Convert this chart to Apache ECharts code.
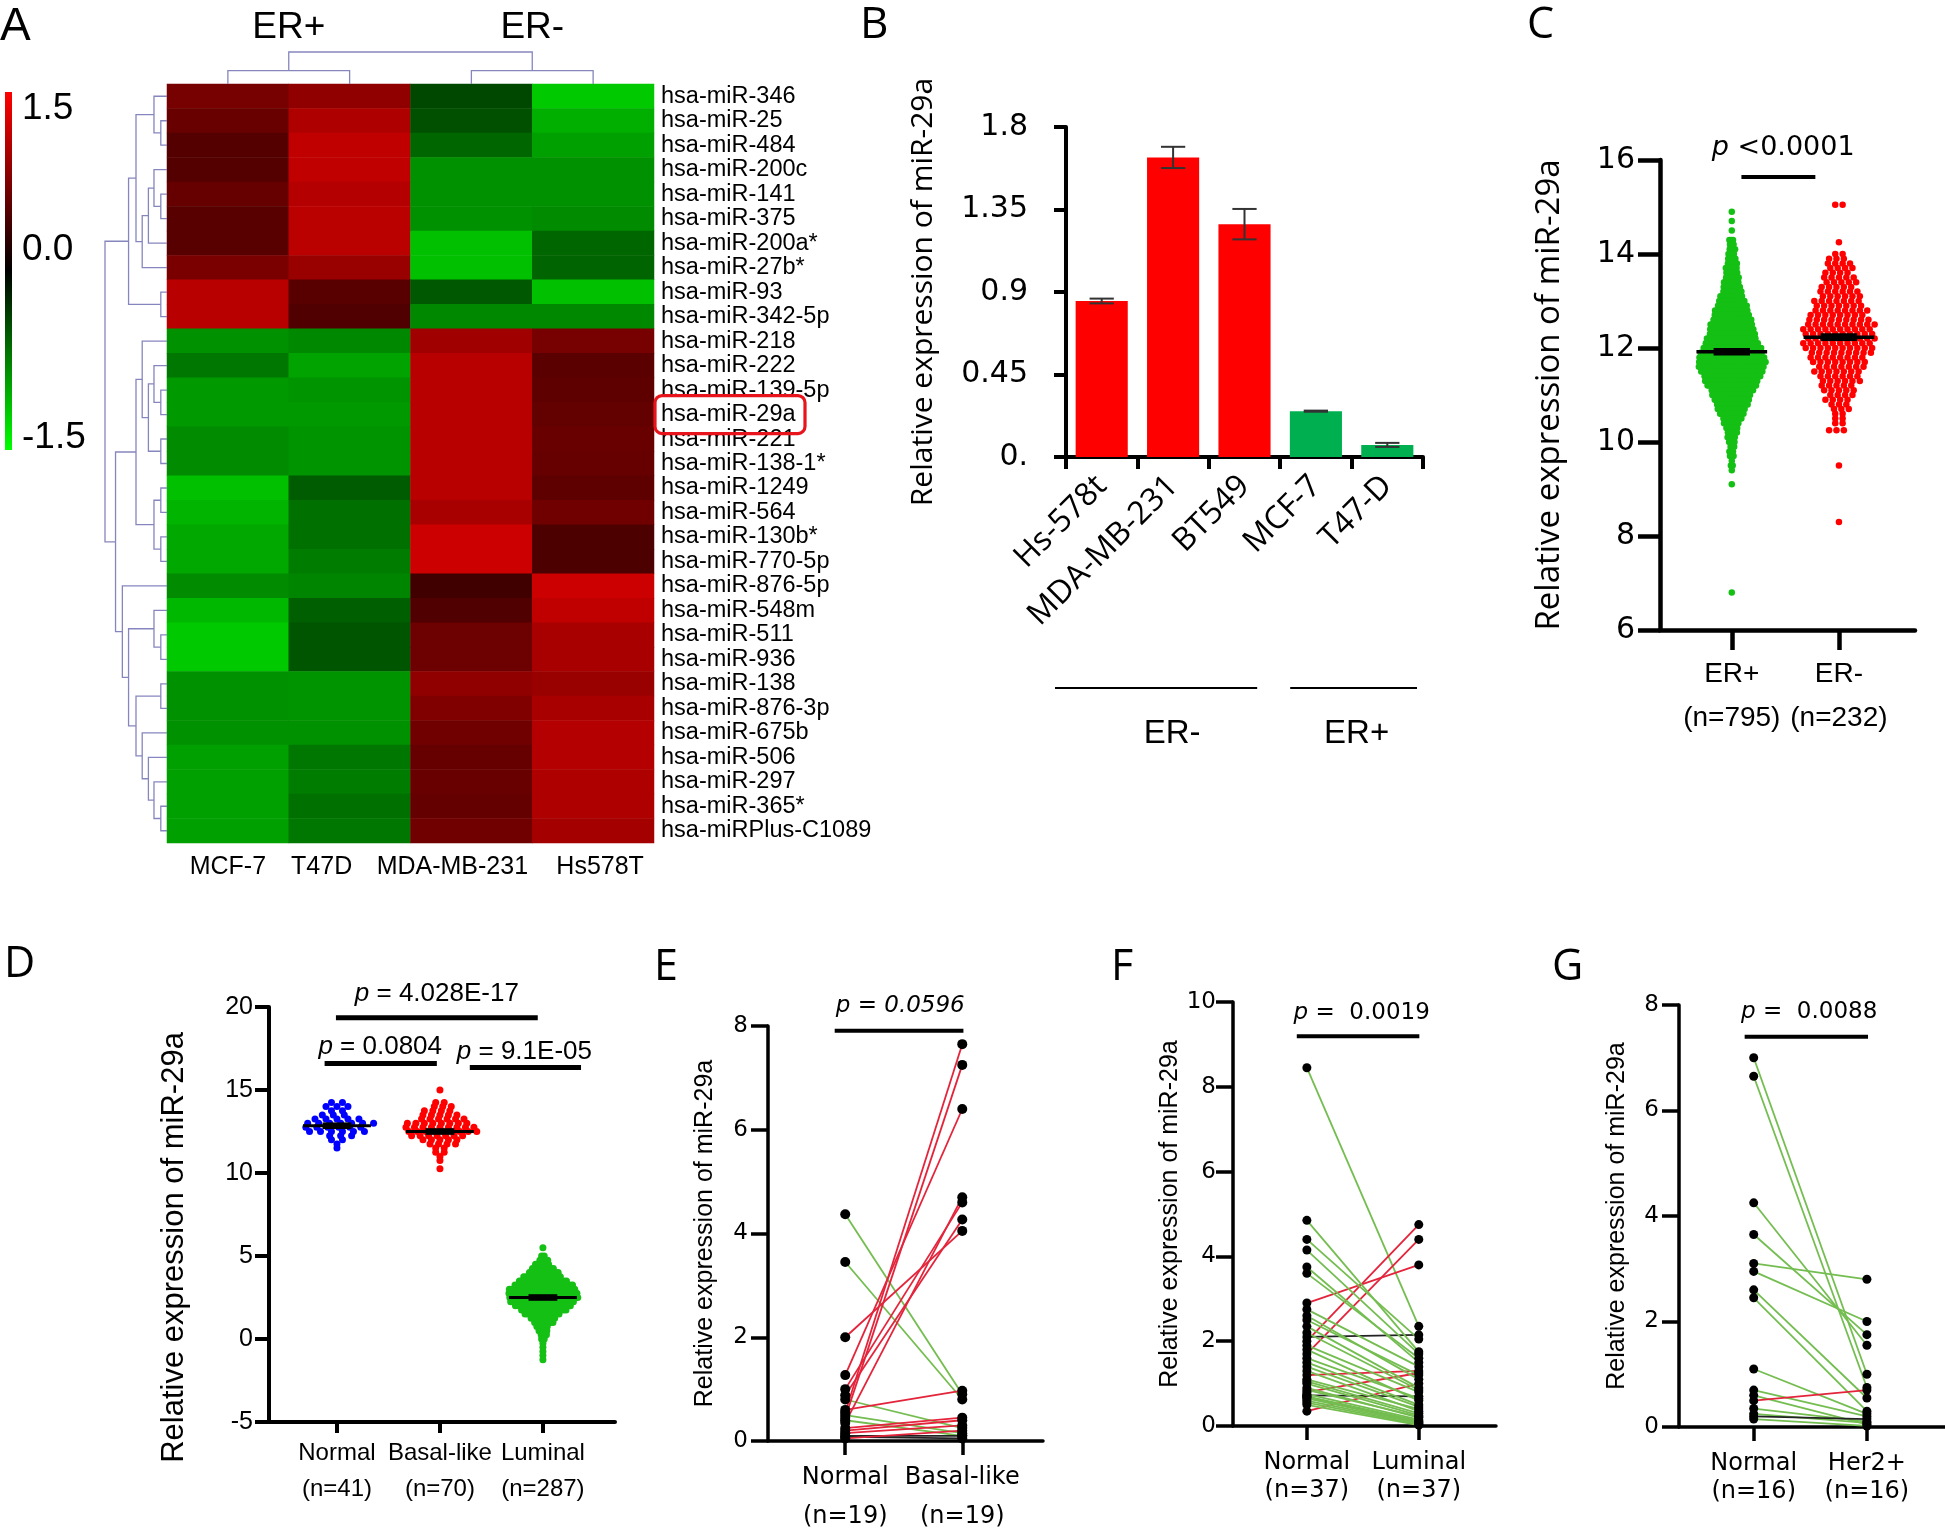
<!DOCTYPE html>
<html>
<head>
<meta charset="utf-8">
<title>miR-29a expression</title>
<script src="https://cdn.jsdelivr.net/npm/echarts@6/dist/echarts.min.js"></script>
<style>
html,body{margin:0;padding:0;background:#ffffff;}
#chart{width:1945px;height:1530px;}
</style>
</head>
<body>
<div id="chart"></div>
<script>
// ===================== DATA =====================
// Panel A: heatmap
const heatColumns = ['MCF-7', 'T47D', 'MDA-MB-231', 'Hs578T'];
const heatGroups = ['ER+', 'ER-'];
const heatRows = ['hsa-miR-346','hsa-miR-25','hsa-miR-484','hsa-miR-200c','hsa-miR-141','hsa-miR-375','hsa-miR-200a*','hsa-miR-27b*','hsa-miR-93','hsa-miR-342-5p','hsa-miR-218','hsa-miR-222','hsa-miR-139-5p','hsa-miR-29a','hsa-miR-221','hsa-miR-138-1*','hsa-miR-1249','hsa-miR-564','hsa-miR-130b*','hsa-miR-770-5p','hsa-miR-876-5p','hsa-miR-548m','hsa-miR-511','hsa-miR-936','hsa-miR-138','hsa-miR-876-3p','hsa-miR-675b','hsa-miR-506','hsa-miR-297','hsa-miR-365*','hsa-miRPlus-C1089'];
const heatValues = [
  [0.70, 0.85, -0.42, -1.18],
  [0.62, 1.03, -0.47, -1.03],
  [0.50, 1.13, -0.60, -0.94],
  [0.50, 1.13, -0.85, -0.85],
  [0.60, 1.06, -0.85, -0.85],
  [0.52, 1.10, -0.85, -0.82],
  [0.52, 1.10, -1.13, -0.60],
  [0.72, 0.90, -1.13, -0.59],
  [1.08, 0.52, -0.52, -1.13],
  [1.08, 0.47, -0.80, -0.80],
  [-0.85, -0.80, 0.94, 0.70],
  [-0.70, -0.96, 1.08, 0.53],
  [-0.90, -0.87, 1.08, 0.56],
  [-0.90, -0.90, 1.08, 0.58],
  [-0.82, -0.87, 1.08, 0.62],
  [-0.82, -0.87, 1.08, 0.60],
  [-1.13, -0.54, 1.08, 0.56],
  [-1.06, -0.66, 0.99, 0.66],
  [-0.99, -0.66, 1.20, 0.45],
  [-0.99, -0.73, 1.20, 0.45],
  [-0.82, -0.78, 0.38, 1.20],
  [-1.08, -0.56, 0.47, 1.13],
  [-1.18, -0.50, 0.64, 0.99],
  [-1.18, -0.50, 0.64, 0.99],
  [-0.85, -0.87, 0.85, 0.90],
  [-0.85, -0.87, 0.75, 0.99],
  [-0.85, -0.85, 0.66, 1.06],
  [-0.94, -0.70, 0.60, 1.06],
  [-0.94, -0.73, 0.62, 1.03],
  [-0.94, -0.66, 0.59, 1.03],
  [-0.94, -0.70, 0.66, 0.97]
];
// dendrogram merges: [nodeA, nodeB, height]; leaves are row/column indices, new nodes numbered after leaves
const rowLinkage = [
  [1,2,0.10],[0,31,0.21],[4,5,0.10],[3,33,0.21],[34,6,0.30],[35,7,0.40],[32,36,0.50],[8,9,0.10],[37,38,0.62],
  [12,13,0.10],[14,15,0.10],[11,40,0.21],[42,41,0.30],[10,43,0.40],[16,17,0.10],[18,19,0.10],[45,46,0.21],[44,47,0.50],
  [22,23,0.10],[21,49,0.21],[24,25,0.10],[29,30,0.10],[28,52,0.21],[27,53,0.30],[26,54,0.40],[51,55,0.50],[50,56,0.62],
  [20,57,0.72],[48,58,0.83],[39,59,1.00]
];
const colLinkage = [[0,1,0.42],[2,3,0.42],[4,5,1.00]];
const colorbarTicks = [1.5, 0.0, -1.5];

// Panel B: bar chart
const barCategories = ['Hs-578t', 'MDA-MB-231', 'BT549', 'MCF-7', 'T47-D'];
const barValues = [0.851, 1.634, 1.270, 0.250, 0.066];
const barErrors = [0.013, 0.058, 0.083, 0.003, 0.011];
const barGroups = ['ER-', 'ER-', 'ER-', 'ER+', 'ER+'];

// Panel C: beeswarm (value bins and number of samples per bin)
const cGroups = ['ER+', 'ER-'];
const cCounts = [795, 232];
const cErPosValues = [14.9,14.7,14.5,14.3,14.2,14.1,14.0,13.9,13.8,13.7,13.6,13.5,13.4,13.3,13.2,13.1,13.0,12.9,12.8,12.7,12.6,12.5,12.4,12.3,12.2,12.1,12.0,11.9,11.8,11.7,11.6,11.5,11.4,11.3,11.2,11.1,11.0,10.9,10.8,10.7,10.6,10.5,10.4,10.3,10.2,10.1,10.0,9.9,9.8,9.7,9.6,9.5,9.4,9.1,6.8];
const cErPosBinCounts = [1,1,1,3,3,4,4,5,6,7,7,8,9,10,11,13,15,17,19,20,22,24,25,26,28,30,33,35,37,38,37,35,32,30,28,24,22,20,18,16,14,11,9,7,6,5,4,3,3,3,1,2,1,1,1];
const cErNegValues = [15.05,14.25,14.0,13.9,13.8,13.7,13.6,13.5,13.4,13.3,13.2,13.1,13.0,12.9,12.8,12.7,12.6,12.5,12.4,12.3,12.2,12.1,12.0,11.9,11.8,11.7,11.6,11.5,11.4,11.3,11.2,11.1,11.0,10.9,10.8,10.7,10.6,10.5,10.4,10.25,9.5,8.3];
const cErNegBinCounts = [2,1,2,3,4,4,4,5,5,5,6,6,7,7,8,8,9,10,10,10,10,10,10,9,8,8,7,7,6,6,5,5,4,4,3,3,2,2,2,3,1,1];
const cMeans = [11.92, 12.23];
const cSigLines = [[0.09, 0.78, 15.64, 0.48, 16.26]]; // x1, x2, y, textX, textY
const cSigTexts = ['{i|p} <0.0001'];

// Panel D: beeswarm
const dGroups = ['Normal', 'Basal-like', 'Luminal'];
const dCounts = [41, 70, 287];
const dNormalValues = [14.25,14.0,13.75,13.5,13.25,13.0,12.75,12.5,12.25,12.0,11.75,11.5];
const dNormalBinCounts = [2,3,2,3,5,7,6,6,3,2,1,1];
const dBasalValues = [15.0,14.25,14.0,13.75,13.5,13.25,13.0,12.75,12.5,12.25,12.0,11.75,11.5,11.25,11.0,10.75,10.25];
const dBasalBinCounts = [1,2,3,4,5,6,8,9,9,7,5,4,2,2,1,1,1];
const dLuminalValues = [5.5,5.0,4.75,4.5,4.25,4.0,3.75,3.5,3.25,3.0,2.75,2.5,2.25,2.0,1.75,1.5,1.25,1.0,0.75,0.5,0.25,0.0,-0.25,-0.5,-0.75,-1.0,-1.25];
const dLuminalBinCounts = [1,2,4,6,9,12,15,19,23,26,27,27,25,22,18,14,10,8,5,4,3,2,1,1,1,1,1];
const dMeans = [12.85, 12.5, 2.5];
const dSigLines = [[-0.01, 1.95, 19.35, 0.97, 20.8], [-0.12, 0.97, 16.6, 0.42, 17.6], [1.29, 2.37, 16.35, 1.82, 17.3]];
const dSigTexts = ['{i|p} = 4.028E-17', '{i|p} = 0.0804', '{i|p} = 9.1E-05'];

// Panel E: paired
const eGroups = ['Normal', 'Basal-like'];
const eCounts = [19, 19];
const eNormal = [4.37, 3.45, 2.0, 1.27, 1.0, 0.88, 0.8, 0.6, 0.55, 0.5, 0.45, 0.4, 0.35, 0.25, 0.2, 0.15, 0.1, 0.08, 0.05];
const eBasal  = [0.9, 0.8, 4.05, 6.4, 4.6, 4.27, 0.25, 0.97, 7.65, 0.15, 7.25, 0.1, 4.7, 0.45, 0.4, 0.3, 0.1, 0.05, 0.2];
const eSigLines = [[-0.09, 1.01, 7.91, 0.47, 8.38]];
const eSigTexts = ['{i|p = 0.0596}'];

// Panel F: paired
const fGroups = ['Normal', 'Luminal'];
const fCounts = [37, 37];
const fNormal  = [8.45, 2.9, 2.0, 1.7, 1.2, 0.8, 0.35, 2.1, 0.72, 4.85, 4.4, 4.15, 3.75, 3.6, 2.75, 2.6, 2.5, 2.35, 2.2, 1.9, 1.8, 1.6, 1.5, 1.4, 1.3, 1.1, 1.05, 1.0, 0.9, 0.85, 0.75, 0.7, 0.68, 0.65, 0.6, 0.55, 0.5];
const fLuminal = [2.35, 3.8, 4.75, 4.4, 1.3, 1.25, 1.0, 2.15, 0.7, 1.75, 2.05, 1.7, 1.5, 1.6, 1.4, 1.1, 1.2, 0.9, 0.85, 0.8, 0.6, 0.65, 0.5, 0.45, 0.35, 0.4, 0.3, 0.25, 0.2, 0.22, 0.15, 0.12, 0.1, 0.08, 0.06, 0.04, 0.02];
const fSigLines = [[-0.09, 1.005, 9.19, 0.49, 9.73]];
const fSigTexts = ['{i|p} =  0.0019'];

// Panel G: paired
const gGroups = ['Normal', 'Her2+'];
const gCounts = [16, 16];
const gNormal = [7.0, 6.65, 4.25, 3.65, 3.1, 2.95, 2.6, 2.45, 1.1, 0.7, 0.6, 0.5, 0.35, 0.25, 0.2, 0.15];
const gHer2   = [1.0, 0.75, 1.55, 1.75, 2.8, 2.0, 0.55, 0.3, 0.25, 0.2, 0.05, 0.7, 0.1, 0.08, 0.15, 0.02];
const gSigLines = [[-0.08, 1.01, 7.4, 0.49, 7.86]];
const gSigTexts = ['{i|p} =  0.0088'];

// ===================== STYLE / LAYOUT =====================
const FONT_ARIAL = "'Liberation Sans', Arial, Helvetica, sans-serif";
const FONT_WIDE = "'DejaVu Sans', Verdana, sans-serif";
const FONT_OPEN = "'Open Sans', 'Noto Sans', sans-serif";
const RED_LINE = '#e3243b';
const GREEN_LINE = '#74bd50';
const GROUP_COLORS = {'ER-': '#ff0000', 'ER+': '#00b050'};
const YNAME = 'Relative expression of miR-29a';
const HEAT_LABEL_SHIFT = [0, -28, -19, 7]; // horizontal nudge of column labels (px)

function dendroItems(linkage, nLeaves) {
  const pos = [], hgt = [];
  for (let i = 0; i < nLeaves; i++) { pos[i] = i; hgt[i] = 0; }
  return linkage.map(([a, b, h], k) => {
    const id = nLeaves + k;
    pos[id] = (pos[a] + pos[b]) / 2; hgt[id] = h;
    return [h, pos[a], pos[b], hgt[a], hgt[b]];
  });
}
function dendroSeries(xi, yi, linkage, nLeaves, horizontal) {
  return {
    type: 'custom', xAxisIndex: xi, yAxisIndex: yi, silent: true, clip: false,
    data: dendroItems(linkage, nLeaves),
    renderItem(p, api) {
      const h = api.value(0), pa = api.value(1), pb = api.value(2), ha = api.value(3), hb = api.value(4);
      const P = horizontal ? (hh, pp) => api.coord([hh, pp]) : (hh, pp) => api.coord([pp, hh]);
      return {type: 'polyline', shape: {points: [P(ha, pa), P(h, pa), P(h, pb), P(hb, pb)]},
        style: {stroke: '#8686bf', lineWidth: 1.3, fill: 'none'}};
    }
  };
}
function swarmPoints(cat, values, counts, halfWidth) {
  const maxC = Math.max.apply(null, counts);
  const step = maxC > 1 ? 2 * halfWidth / (maxC - 1) : 0;
  const pts = [];
  values.forEach((v, k) => {
    const n = counts[k];
    const stagger = n > 2 ? ((k % 3) - 1) * step / 3 : 0;
    for (let i = 0; i < n; i++) pts.push([cat + (i - (n - 1) / 2) * step + stagger, v]);
  });
  return pts;
}
function scatterSeries(xi, yi, data, color, size) {
  return {type: 'scatter', xAxisIndex: xi, yAxisIndex: yi, data, symbol: 'circle', symbolSize: size,
    itemStyle: {color, opacity: 1}, silent: true, clip: false};
}
function meanSeries(xi, yi, means, half, semHalf, lw) {
  return {
    type: 'custom', xAxisIndex: xi, yAxisIndex: yi, silent: true, clip: false, z: 10,
    data: means.map((m, i) => [i, m]),
    renderItem(p, api) {
      const x = api.value(0), y = api.value(1);
      const a = api.coord([x - half, y]), b = api.coord([x + half, y]);
      const c = api.coord([x - semHalf, y]), d = api.coord([x + semHalf, y]);
      return {type: 'group', children: [
        {type: 'line', shape: {x1: a[0], y1: a[1], x2: b[0], y2: b[1]}, style: {stroke: '#000', lineWidth: lw}},
        {type: 'line', shape: {x1: c[0], y1: c[1], x2: d[0], y2: d[1]}, style: {stroke: '#000', lineWidth: lw * 2.2}}
      ]};
    }
  };
}
function sigSeries(xi, yi, lines, texts, font, size, lw) {
  return {
    type: 'custom', xAxisIndex: xi, yAxisIndex: yi, silent: true, clip: false, z: 10,
    data: lines.map((l, k) => l.concat([k])),
    renderItem(p, api) {
      const a = api.coord([api.value(0), api.value(2)]), b = api.coord([api.value(1), api.value(2)]);
      const t = api.coord([api.value(3), api.value(4)]);
      const k = api.value(5);
      return {type: 'group', children: [
        {type: 'line', shape: {x1: a[0], y1: a[1], x2: b[0], y2: b[1]}, style: {stroke: '#000', lineWidth: lw}},
        {type: 'text', x: t[0], y: t[1], style: {text: texts[k], fill: '#000', fontFamily: font, fontSize: size,
          align: 'center', verticalAlign: 'middle',
          rich: {i: {fontStyle: 'italic', fontFamily: font, fontSize: size, fill: '#000'}}}}
      ]};
    }
  };
}
function pairLineSeries(xi, yi, a, b) {
  return {
    type: 'custom', xAxisIndex: xi, yAxisIndex: yi, silent: true, clip: false,
    data: a.map((v, i) => [v, b[i]]),
    renderItem(p, api) {
      const v0 = api.value(0), v1 = api.value(1);
      const s = api.coord([0, v0]), e = api.coord([1, v1]);
      const d = v1 - v0;
      const col = Math.abs(d) < 0.06 ? '#222' : (d > 0 ? RED_LINE : GREEN_LINE);
      return {type: 'line', shape: {x1: s[0], y1: s[1], x2: e[0], y2: e[1]}, style: {stroke: col, lineWidth: 1.8}};
    }
  };
}
function pairDots(xi, yi, a, b, size) {
  return scatterSeries(xi, yi, a.map(v => [0, v]).concat(b.map(v => [1, v])), '#000', size);
}
function gpXAxis(grid, labels, min, max, o) {
  const idx = labels.map((_, i) => i);
  return {type: 'value', gridIndex: grid, min, max,
    axisLine: {show: true, onZero: false, lineStyle: {color: '#000', width: o.lw}},
    axisTick: {show: true, customValues: idx, length: o.tick, lineStyle: {color: '#000', width: o.lw}},
    axisLabel: {show: true, customValues: idx, formatter: v => labels[Math.round(v)], color: '#000',
      fontFamily: o.font, fontSize: o.size, lineHeight: o.lh, margin: o.margin,
      showMinLabel: true, showMaxLabel: true, hideOverlap: false},
    splitLine: {show: false}};
}
function gpYAxis(grid, min, max, interval, o) {
  return {type: 'value', gridIndex: grid, min, max, interval,
    axisLine: {show: true, onZero: false, lineStyle: {color: '#000', width: o.lw}},
    axisTick: {show: true, length: o.tick, lineStyle: {color: '#000', width: o.lw}},
    axisLabel: {color: '#000', fontFamily: o.font, fontSize: o.size, margin: o.margin, formatter: o.fmt,
      showMinLabel: true, showMaxLabel: true},
    splitLine: {show: false},
    name: YNAME, nameLocation: 'middle', nameGap: o.gap,
    nameTextStyle: {color: '#000', fontFamily: o.nameFont, fontSize: o.nameSize, padding: o.namePad || 0}};
}
const labelsWithN = (groups, counts) => groups.map((g, i) => g + '\n(n=' + counts[i] + ')');

// ===================== OPTION =====================
const grids = [
  {left: 167, top: 84, width: 487, height: 759},    // 0 heatmap
  {left: 105, top: 84, width: 62, height: 759},     // 1 row dendrogram
  {left: 167, top: 52, width: 487, height: 32},     // 2 column dendrogram
  {left: 1066, top: 127, width: 357, height: 330},  // 3 B
  {left: 1660, top: 160, width: 255, height: 470},  // 4 C
  {left: 269, top: 1007, width: 346, height: 415},  // 5 D
  {left: 768, top: 1026, width: 275, height: 415},  // 6 E
  {left: 1233, top: 1002, width: 263, height: 424}, // 7 F
  {left: 1679, top: 1005, width: 266, height: 422}  // 8 G
].map(g => Object.assign({containLabel: false, outerBoundsMode: 'none'}, g));

const heatColRich = {};
HEAT_LABEL_SHIFT.forEach((s, i) => {
  heatColRich['c' + i] = {fontFamily: FONT_ARIAL, fontSize: 25, color: '#000',
    padding: s < 0 ? [0, -2 * s, 0, 0] : [0, 0, 0, 2 * s]};
});

const xAxes = [
  {type: 'category', gridIndex: 0, data: heatColumns, position: 'bottom', axisLine: {show: false}, axisTick: {show: false}, splitLine: {show: false},
   axisLabel: {interval: 0, margin: 12, color: '#000', fontFamily: FONT_ARIAL, fontSize: 25,
     formatter: (v, i) => '{c' + i + '|' + v + '}', rich: heatColRich}},
  {type: 'category', gridIndex: 0, data: heatGroups, position: 'top', axisLine: {show: false}, axisTick: {show: false}, splitLine: {show: false},
   axisLabel: {interval: 0, margin: 38, color: '#000', fontFamily: FONT_ARIAL, fontSize: 37}},
  {type: 'value', gridIndex: 1, min: 0, max: 1, inverse: true, show: false},
  {type: 'value', gridIndex: 2, min: -0.5, max: heatColumns.length - 0.5, show: false},
  {type: 'category', gridIndex: 3, data: barCategories,
   axisLine: {show: true, lineStyle: {color: '#000', width: 4}},
   axisTick: {show: true, alignWithLabel: false, length: 12, lineStyle: {color: '#000', width: 4}},
   axisLabel: {rotate: 45, interval: 0, margin: 24, color: '#000', fontFamily: FONT_OPEN, fontSize: 32}, splitLine: {show: false}},
  gpXAxis(4, labelsWithN(cGroups, cCounts), -0.67, 1.71, {lw: 4.5, tick: 20, font: FONT_ARIAL, size: 28, lh: 44, margin: 22}),
  gpXAxis(5, labelsWithN(dGroups, dCounts), -0.66, 2.70, {lw: 4, tick: 11, font: FONT_ARIAL, size: 24, lh: 36, margin: 13}),
  gpXAxis(6, labelsWithN(eGroups, eCounts), -0.66, 1.69, {lw: 3.5, tick: 14, font: FONT_WIDE, size: 24, lh: 39, margin: 17}),
  gpXAxis(7, labelsWithN(fGroups, fCounts), -0.66, 1.69, {lw: 3.5, tick: 14, font: FONT_WIDE, size: 24, lh: 28, margin: 23}),
  gpXAxis(8, labelsWithN(gGroups, gCounts), -0.66, 1.69, {lw: 3.5, tick: 14, font: FONT_WIDE, size: 24, lh: 28, margin: 23})
];
const yAxes = [
  {type: 'category', gridIndex: 0, data: heatRows, inverse: true, position: 'right', axisLine: {show: false}, axisTick: {show: false}, splitLine: {show: false},
   axisLabel: {interval: 0, margin: 7, color: '#000', fontFamily: FONT_ARIAL, fontSize: 23.5}},
  {type: 'value', gridIndex: 1, min: -0.5, max: heatRows.length - 0.5, inverse: true, show: false},
  {type: 'value', gridIndex: 2, min: 0, max: 1, show: false},
  {type: 'value', gridIndex: 3, min: 0, max: 1.8, interval: 0.45,
   axisLine: {show: true, lineStyle: {color: '#000', width: 4}},
   axisTick: {show: true, length: 12, lineStyle: {color: '#000', width: 4}},
   axisLabel: {color: '#000', fontFamily: FONT_WIDE, fontSize: 30, margin: 38, formatter: v => v === 0 ? '0.' : String(+v.toFixed(2))},
   splitLine: {show: false}, name: YNAME, nameLocation: 'middle', nameGap: 128,
   nameTextStyle: {color: '#000', fontFamily: FONT_OPEN, fontSize: 30}},
  gpYAxis(4, 6, 16, 2, {lw: 4.5, tick: 22, font: FONT_WIDE, size: 30, margin: 25, gap: 94, nameFont: FONT_OPEN, nameSize: 33}),
  gpYAxis(5, -5, 20, 5, {lw: 4, tick: 14, font: FONT_ARIAL, size: 25, margin: 16, gap: 79, nameFont: FONT_ARIAL, nameSize: 31, namePad: [0, 66, 0, 0]}),
  gpYAxis(6, 0, 8, 2, {lw: 3.5, tick: 17, font: FONT_WIDE, size: 23, margin: 20, gap: 50, nameFont: FONT_ARIAL, nameSize: 25}),
  gpYAxis(7, 0, 10, 2, {lw: 3.5, tick: 17, font: FONT_WIDE, size: 23, margin: 17, gap: 48, nameFont: FONT_ARIAL, nameSize: 25}),
  gpYAxis(8, 0, 8, 2, {lw: 3.5, tick: 17, font: FONT_WIDE, size: 23, margin: 20, gap: 49, nameFont: FONT_ARIAL, nameSize: 25})
];

const series = [
  {type: 'heatmap', xAxisIndex: 0, yAxisIndex: 0, silent: true,
   data: heatValues.flatMap((row, r) => row.map((v, c) => [c, r, v])),
   itemStyle: {borderWidth: 0}},
  dendroSeries(2, 1, rowLinkage, heatRows.length, true),
  dendroSeries(3, 2, colLinkage, heatColumns.length, false),
  {type: 'bar', xAxisIndex: 4, yAxisIndex: 3, silent: true, barCategoryGap: '27%',
   data: barValues.map((v, i) => ({value: v, itemStyle: {color: GROUP_COLORS[barGroups[i]]}}))},
  {type: 'custom', xAxisIndex: 4, yAxisIndex: 3, silent: true, clip: false, z: 5,
   data: barValues.map((v, i) => [i, v - barErrors[i], v + barErrors[i]]),
   renderItem(p, api) {
     const i = api.value(0);
     const top = api.coord([i, api.value(2)]), bot = api.coord([i, api.value(1)]);
     const w = api.size([1, 0])[0] * 0.17;
     const st = {stroke: '#333', lineWidth: 2};
     return {type: 'group', children: [
       {type: 'line', shape: {x1: top[0], y1: top[1], x2: bot[0], y2: bot[1]}, style: st},
       {type: 'line', shape: {x1: top[0] - w, y1: top[1], x2: top[0] + w, y2: top[1]}, style: st},
       {type: 'line', shape: {x1: bot[0] - w, y1: bot[1], x2: bot[0] + w, y2: bot[1]}, style: st}
     ]};
   }},
  scatterSeries(5, 4, swarmPoints(0, cErPosValues, cErPosBinCounts, 0.31), '#14c014', 6.5),
  scatterSeries(5, 4, swarmPoints(1, cErNegValues, cErNegBinCounts, 0.31), '#ff0000', 6.5),
  meanSeries(5, 4, cMeans, 0.33, 0.17, 3.5),
  sigSeries(5, 4, cSigLines, cSigTexts, FONT_WIDE, 27, 4),
  scatterSeries(6, 5, swarmPoints(0, dNormalValues, dNormalBinCounts, 0.32), '#0000ff', 7),
  scatterSeries(6, 5, swarmPoints(1, dBasalValues, dBasalBinCounts, 0.33), '#ff0000', 7),
  scatterSeries(6, 5, swarmPoints(2, dLuminalValues, dLuminalBinCounts, 0.33), '#14c014', 7),
  meanSeries(6, 5, dMeans, 0.33, 0.14, 3),
  sigSeries(6, 5, dSigLines, dSigTexts, FONT_ARIAL, 26, 5),
  pairLineSeries(7, 6, eNormal, eBasal), pairDots(7, 6, eNormal, eBasal, 10),
  sigSeries(7, 6, eSigLines, eSigTexts, FONT_WIDE, 23, 4),
  pairLineSeries(8, 7, fNormal, fLuminal), pairDots(8, 7, fNormal, fLuminal, 9),
  sigSeries(8, 7, fSigLines, fSigTexts, FONT_WIDE, 23, 4),
  pairLineSeries(9, 8, gNormal, gHer2), pairDots(9, 8, gNormal, gHer2, 9),
  sigSeries(9, 8, gSigLines, gSigTexts, FONT_WIDE, 23, 4)
];

const option = {
  animation: false,
  backgroundColor: '#ffffff',
  textStyle: {fontFamily: FONT_ARIAL},
  grid: grids, xAxis: xAxes, yAxis: yAxes, series,
  visualMap: {type: 'continuous', min: -1.5, max: 1.5, seriesIndex: 0, show: false,
    inRange: {color: ['#00ff00', '#000000', '#ff0000']}}
};

const chart = echarts.init(document.getElementById('chart'), null, {renderer: 'canvas', width: 1945, height: 1530});
chart.setOption(option);

// ===================== ANNOTATIONS =====================
const gfx = [];
// panel letters
[['A', 0, 4, FONT_ARIAL, 46], ['B', 860, 3, FONT_OPEN, 44], ['C', 1527, 4, FONT_OPEN, 43], ['D', 4, 943, FONT_OPEN, 43],
 ['E', 654, 946, FONT_OPEN, 43], ['F', 1111, 946, FONT_OPEN, 43], ['G', 1552, 946, FONT_OPEN, 43]].forEach(([t, x, y, f, s]) => {
  gfx.push({type: 'text', x, y, style: {text: t, fontFamily: f, fontSize: s, fill: '#000', align: 'left', verticalAlign: 'top'}});
});
// colour bar
gfx.push({type: 'rect', shape: {x: 5, y: 92, width: 7, height: 358},
  style: {fill: new echarts.graphic.LinearGradient(0, 0, 0, 1, [
    {offset: 0, color: '#ff0000'}, {offset: 0.5, color: '#000000'}, {offset: 1, color: '#00ff00'}])}});
const cbY = [109, 250, 438];
colorbarTicks.forEach((v, i) => {
  gfx.push({type: 'text', x: 22, y: cbY[i], style: {text: v.toFixed(1), fontFamily: FONT_ARIAL, fontSize: 37, fill: '#000', align: 'left', verticalAlign: 'middle'}});
});
// red box around miR-29a
const boxY = chart.convertToPixel({yAxisIndex: 0}, heatRows.indexOf('hsa-miR-29a'));
gfx.push({type: 'rect', shape: {x: 655, y: boxY - 19, width: 150, height: 38, r: 7},
  style: {fill: 'none', stroke: '#e8141c', lineWidth: 3.2}, z: 10});
// ER group brackets under panel B
const bx = i => chart.convertToPixel({xAxisIndex: 4}, i);
const band = bx(1) - bx(0);
const groupOrder = [];
barGroups.forEach(g => { if (groupOrder.indexOf(g) < 0) groupOrder.push(g); });
groupOrder.forEach((g, k) => {
  const idx = barGroups.map((x, i) => x === g ? i : -1).filter(i => i >= 0);
  const x0 = bx(idx[0]) - band / 2 + (k === 0 ? -11 : 10);
  const x1 = bx(idx[idx.length - 1]) + band / 2 - (k === 0 ? 23 : 6);
  gfx.push({type: 'line', shape: {x1: x0, y1: 688, x2: x1, y2: 688}, style: {stroke: '#000', lineWidth: 2}});
  gfx.push({type: 'text', x: (x0 + x1) / 2 + (k === 0 ? 16 : 3), y: 734,
    style: {text: g, fontFamily: FONT_ARIAL, fontSize: 33, fill: '#000', align: 'center', verticalAlign: 'middle'}});
});
chart.setOption({graphic: gfx});
</script>
</body>
</html>
